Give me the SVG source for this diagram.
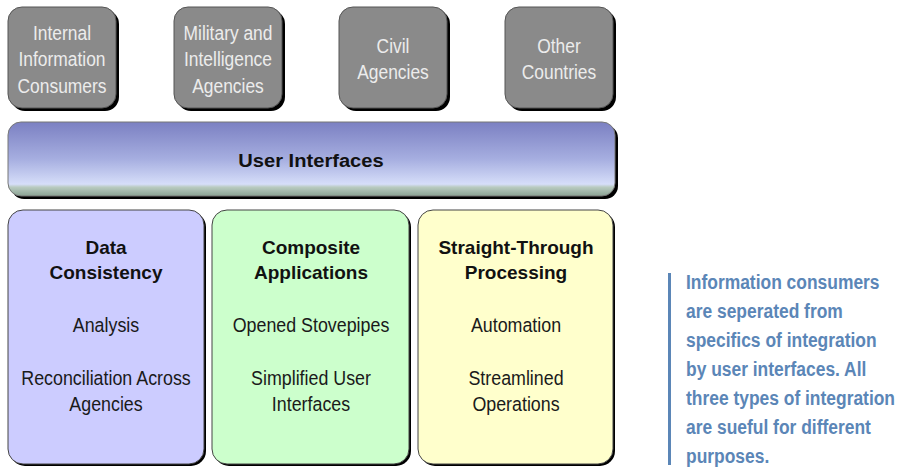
<svg xmlns="http://www.w3.org/2000/svg" width="900" height="468" viewBox="0 0 900 468">
<style>
.shadow{fill:#000}
.gray{fill:#8a8a8a;stroke:#555;stroke-width:1}
.gt{font-family:"Liberation Sans",Arial,sans-serif;font-size:20px;fill:#ececec;text-anchor:middle}
.col{stroke:#444;stroke-width:1}
.hd{font-family:"Liberation Sans",Arial,sans-serif;font-size:19px;font-weight:bold;fill:#111;text-anchor:middle}
.st{font-family:"Liberation Sans",Arial,sans-serif;font-size:20.5px;fill:#1a1a1a;text-anchor:middle}
.note{font-family:"Liberation Sans",Arial,sans-serif;font-size:21px;font-weight:bold;fill:#5b86b7}
</style>
<defs>
<linearGradient id="barGrad" x1="0" y1="0" x2="0" y2="1">
<stop offset="0" stop-color="#7b80c2"/>
<stop offset="0.5" stop-color="#a6aee0"/>
<stop offset="0.84" stop-color="#d6def9"/>
<stop offset="0.88" stop-color="#b9cbc0"/>
<stop offset="1" stop-color="#8aa393"/>
</linearGradient>
</defs>

<g id="internal-consumers">
<rect class="shadow" x="11" y="10" width="108" height="101" rx="14"/>
<rect class="gray" x="8" y="7" width="108" height="101" rx="14"/>
<g transform="translate(62,0) scale(0.87,1)">
<text class="gt" x="0" y="40">Internal</text>
<text class="gt" x="0" y="66">Information</text>
<text class="gt" x="0" y="93">Consumers</text>
</g>
</g>

<g id="military-agencies">
<rect class="shadow" x="177" y="10" width="108" height="101" rx="14"/>
<rect class="gray" x="174" y="7" width="108" height="101" rx="14"/>
<g transform="translate(228,0) scale(0.87,1)">
<text class="gt" x="0" y="40">Military and</text>
<text class="gt" x="0" y="66">Intelligence</text>
<text class="gt" x="0" y="93">Agencies</text>
</g>
</g>

<g id="civil-agencies">
<rect class="shadow" x="342" y="10" width="108" height="101" rx="14"/>
<rect class="gray" x="339" y="7" width="108" height="101" rx="14"/>
<g transform="translate(393,0) scale(0.87,1)">
<text class="gt" x="0" y="53">Civil</text>
<text class="gt" x="0" y="79">Agencies</text>
</g>
</g>

<g id="other-countries">
<rect class="shadow" x="508" y="10" width="108" height="101" rx="14"/>
<rect class="gray" x="505" y="7" width="108" height="101" rx="14"/>
<g transform="translate(559,0) scale(0.87,1)">
<text class="gt" x="0" y="53">Other</text>
<text class="gt" x="0" y="79">Countries</text>
</g>
</g>

<g id="user-interfaces">
<rect class="shadow" x="11" y="125" width="607" height="74" rx="13"/>
<rect x="8" y="122" width="607" height="74" rx="13" fill="url(#barGrad)" stroke="#777" stroke-width="1"/>
<g transform="translate(311,0) scale(1.06,1)">
<text class="hd" x="0" y="167">User Interfaces</text>
</g>
</g>

<g id="data-consistency">
<rect class="shadow" x="10" y="212" width="196" height="254" rx="15"/>
<rect class="col" x="8" y="210" width="196" height="254" rx="15" fill="#ccccff"/>
<text class="hd" x="106" y="254">Data</text>
<text class="hd" x="106" y="279">Consistency</text>
<g transform="translate(106,0) scale(0.87,1)">
<text class="st" x="0" y="332">Analysis</text>
<text class="st" x="0" y="385">Reconciliation Across</text>
<text class="st" x="0" y="411">Agencies</text>
</g>
</g>

<g id="composite-applications">
<rect class="shadow" x="214" y="212" width="197" height="254" rx="15"/>
<rect class="col" x="212" y="210" width="197" height="254" rx="15" fill="#ccffcc"/>
<text class="hd" x="311" y="254">Composite</text>
<text class="hd" x="311" y="279">Applications</text>
<g transform="translate(311,0) scale(0.87,1)">
<text class="st" x="0" y="332">Opened Stovepipes</text>
<text class="st" x="0" y="385">Simplified User</text>
<text class="st" x="0" y="411">Interfaces</text>
</g>
</g>

<g id="straight-through-processing">
<rect class="shadow" x="420" y="212" width="195" height="254" rx="15"/>
<rect class="col" x="418" y="210" width="195" height="254" rx="15" fill="#ffffcc"/>
<text class="hd" x="516" y="254">Straight-Through</text>
<text class="hd" x="516" y="279">Processing</text>
<g transform="translate(516,0) scale(0.87,1)">
<text class="st" x="0" y="332">Automation</text>
<text class="st" x="0" y="385">Streamlined</text>
<text class="st" x="0" y="411">Operations</text>
</g>
</g>

<g id="connectors"></g>

<g id="note">
<rect x="668" y="273" width="3" height="192" fill="#5b86b7"/>
<g transform="translate(686,0) scale(0.83,1)">
<text class="note" x="0" y="289">Information consumers</text>
<text class="note" x="0" y="318">are seperated from</text>
<text class="note" x="0" y="347">specifics of integration</text>
<text class="note" x="0" y="376">by user interfaces. All</text>
<text class="note" x="0" y="405">three types of integration</text>
<text class="note" x="0" y="434">are sueful for different</text>
<text class="note" x="0" y="463">purposes.</text>
</g>
</g>
</svg>
